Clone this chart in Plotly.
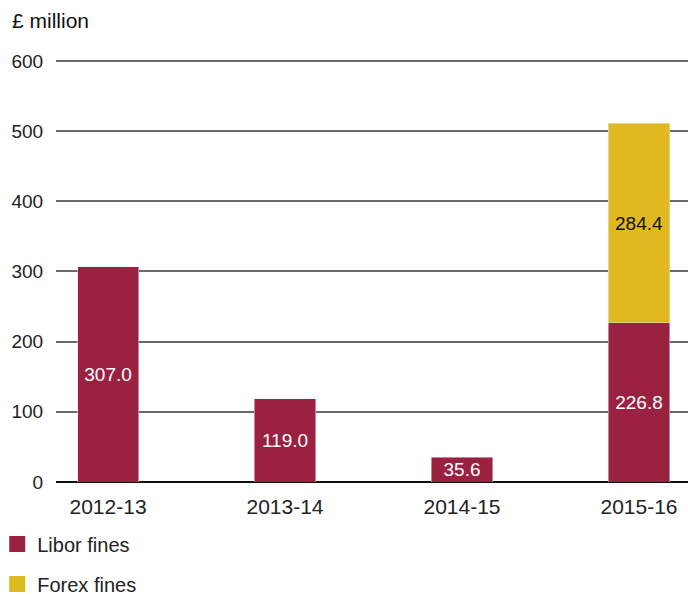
import plotly.graph_objects as go

categories = ["2012-13", "2013-14", "2014-15", "2015-16"]
libor = [307.0, 119.0, 35.6, 226.8]
forex = [None, None, None, 284.4]
y_ticks = [0, 100, 200, 300, 400, 500, 600]

MAROON = "#9B2140"
GOLD = "#E0B81F"
FONT = "Liberation Sans, Arial, Helvetica, sans-serif"

fig = go.Figure()
fig.add_trace(go.Bar(
    x=categories, y=libor, name="Libor fines", marker_color=MAROON,
    width=0.345, showlegend=False,
    texttemplate="%{y:.1f}", textposition="inside", insidetextanchor="middle",
    textfont=dict(color="white", size=19, family=FONT), constraintext="none",
))
fig.add_trace(go.Bar(
    x=categories, y=forex, name="Forex fines", marker_color=GOLD,
    width=0.345, showlegend=False,
    texttemplate="%{y:.1f}", textposition="inside", insidetextanchor="middle",
    textfont=dict(color="#111111", size=19, family=FONT), constraintext="none",
))
# legend entries with larger square symbols
for nm, col, grp in [("Libor fines", MAROON, "a"), ("Forex fines", GOLD, "b")]:
    fig.add_trace(go.Scatter(
        x=[None], y=[None], mode="markers", name=nm, legendgroup=grp,
        marker=dict(symbol="square", size=16, color=col), showlegend=True,
    ))

fig.update_layout(
    width=688, height=595,
    margin=dict(l=56, r=0, t=56, b=113, autoexpand=False),
    barmode="stack",
    plot_bgcolor="white", paper_bgcolor="white",
    font=dict(family=FONT, color="#222222", size=19),
    showlegend=True,
    legend=dict(
        x=-0.093, xanchor="left", y=-0.1, yanchor="top",
        orientation="v", font=dict(size=20, color="#222222"),
        tracegroupgap=11, itemwidth=30, itemsizing="trace",
        bgcolor="rgba(0,0,0,0)",
    ),
    xaxis=dict(
        range=[-0.294, 3.277], showgrid=False, showline=False,
        ticks="outside", ticklen=6, tickcolor="rgba(0,0,0,0)",
        tickfont=dict(size=21),
    ),
    yaxis=dict(
        range=[0, 607.1], tickvals=y_ticks, showgrid=True,
        gridcolor="#6a6a6a", gridwidth=1.5, zeroline=True,
        zerolinecolor="#111111", zerolinewidth=1.6,
        showline=False, ticks="outside", ticklen=8,
        tickcolor="rgba(0,0,0,0)", tickfont=dict(size=19),
    ),
    annotations=[dict(
        text="£ million", xref="paper", yref="paper",
        x=-0.0728, y=1.0845, xanchor="left", yanchor="middle",
        showarrow=False, font=dict(size=21, color="#111111"),
    )],
)

fig.write_html(
    "out.html",
    config={"displayModeBar": False},
    post_script="document.body.style.margin='0';document.body.style.overflow='hidden';",
)
